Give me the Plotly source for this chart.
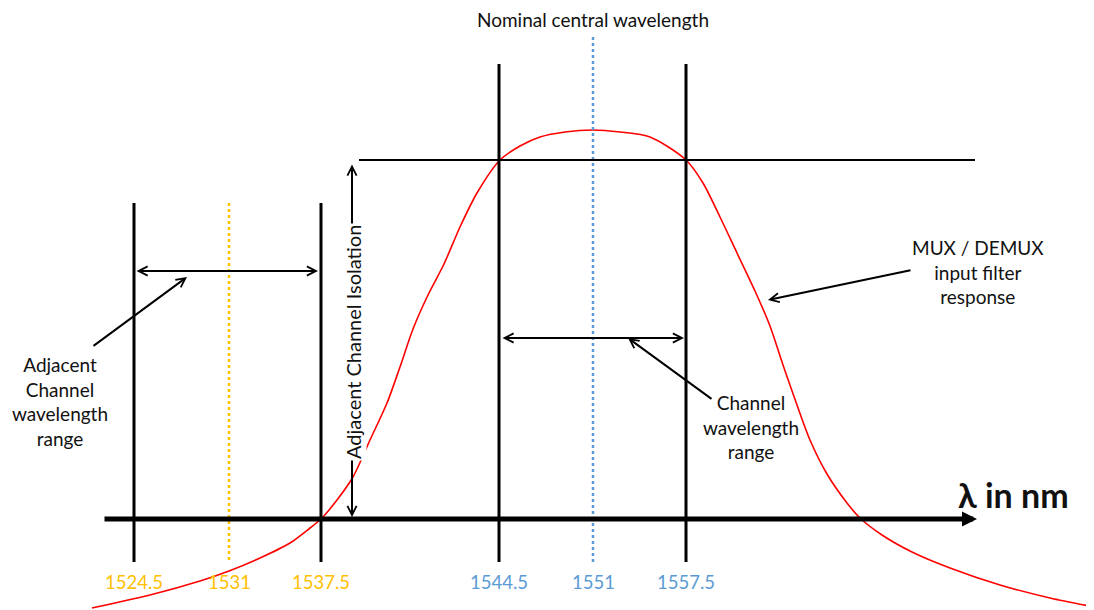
import plotly.graph_objects as go

# ---- data (diagram coordinates: x to the right, y downward) ----
wavelength_labels = ["1524.5", "1531", "1537.5", "1544.5", "1551", "1557.5"]
wavelength_pos = [134, 229, 321, 499, 593, 686]
label_colors = ["#FFC000", "#FFC000", "#FFC000", "#5B9BD5", "#5B9BD5", "#5B9BD5"]

curve_x = [92, 150, 200, 229, 260, 290, 310, 321, 337, 353, 370, 387, 400, 413, 428, 444, 460, 477,
           500, 520, 540, 565, 593, 620, 650, 686, 703, 720, 737, 755, 770, 783, 797, 810, 827,
           847, 860, 882, 912, 950, 1000, 1050, 1094]
curve_y = [608, 595, 581, 571, 558, 543, 528, 519, 500, 477, 440, 403, 367, 329, 295, 264, 227, 193,
           160, 146, 137, 132, 130, 132, 137, 160, 183, 217, 253, 291, 326, 365, 405, 440, 474,
           503, 518, 535, 552, 568, 585, 598, 607]

FONT = "Lato"
BLACK = "#111111"

fig = go.Figure()

# filter response curve
fig.add_trace(go.Scatter(x=curve_x, y=curve_y, mode="lines",
                         line=dict(color="#FF0000", width=1.6, shape="spline", smoothing=0.8),
                         hoverinfo="skip"))

# solid channel-edge lines
tops = {0: 203, 2: 203, 3: 64, 5: 64}
for i, top in tops.items():
    fig.add_trace(go.Scatter(x=[wavelength_pos[i]] * 2, y=[top, 562], mode="lines",
                             line=dict(color="black", width=3), hoverinfo="skip"))

# dotted centre lines
fig.add_trace(go.Scatter(x=[wavelength_pos[1]] * 2, y=[203, 562], mode="lines",
                         line=dict(color="#FFC000", width=2.5, dash="dot"), hoverinfo="skip"))
fig.add_trace(go.Scatter(x=[wavelength_pos[4]] * 2, y=[37, 562], mode="lines",
                         line=dict(color="#5B9BD5", width=2.5, dash="dot"), hoverinfo="skip"))

# horizontal reference line at passband level
fig.add_trace(go.Scatter(x=[359, 975], y=[160, 160], mode="lines",
                         line=dict(color="black", width=2), hoverinfo="skip"))

ann = []

def arrow(x, y, ax, ay, width=2, head=5, size=0.9, side="end", color="black"):
    ann.append(dict(x=x, y=y, ax=ax, ay=ay, xref="x", yref="y", axref="x", ayref="y",
                    text="", showarrow=True, arrowhead=head, startarrowhead=head,
                    arrowsize=size, startarrowsize=size, arrowwidth=width,
                    arrowcolor=color, arrowside=side, standoff=0, startstandoff=0))

# wavelength axis
arrow(977, 519, 103, 519, width=5, head=2, size=0.6)

# double arrows
arrow(318, 271, 135, 271, side="end+start")
arrow(684, 338, 501, 338, side="end+start")
arrow(352, 517, 352, 163, side="end+start")

# pointer arrows
arrow(187, 277, 92, 347)
arrow(628, 338, 713, 400)
arrow(768, 300, 912, 270)

# texts
ann.append(dict(x=593, y=19, xref="x", yref="y", text="Nominal central wavelength",
                showarrow=False, borderpad=0, font=dict(family=FONT, size=19, color=BLACK)))
ann.append(dict(x=60, y=401, xref="x", yref="y",
                text="Adjacent<br>Channel<br>wavelength<br>range",
                showarrow=False, font=dict(family=FONT, size=19, color=BLACK)))
ann.append(dict(x=751, y=427, xref="x", yref="y", text="Channel<br>wavelength<br>range",
                showarrow=False, font=dict(family=FONT, size=19, color=BLACK)))
ann.append(dict(x=978, y=272, xref="x", yref="y", text="MUX / DEMUX<br>input filter<br>response",
                showarrow=False, font=dict(family=FONT, size=19, color=BLACK)))
ann.append(dict(x=353, y=342, xref="x", yref="y", text="Adjacent Channel Isolation",
                textangle=-90, showarrow=False, bgcolor="white", borderpad=1,
                font=dict(family=FONT, size=20, color=BLACK)))
ann.append(dict(x=1013, y=494, xref="x", yref="y", text="<b>λ in nm</b>",
                showarrow=False, font=dict(family=FONT, size=34, color=BLACK)))

for lab, pos, col in zip(wavelength_labels, wavelength_pos, label_colors):
    ann.append(dict(x=pos, y=582, xref="x", yref="y", text=lab, showarrow=False,
                    font=dict(family=FONT, size=18.5, color=col)))

# the page body adds an 8px offset; compensate so diagram units match the window pixels
fig.update_layout(
    width=1086, height=602,
    margin=dict(l=0, r=0, t=0, b=0),
    paper_bgcolor="white", plot_bgcolor="white",
    showlegend=False,
    xaxis=dict(range=[8, 1094], visible=False, fixedrange=True),
    yaxis=dict(range=[610, 8], visible=False, fixedrange=True),
    annotations=ann,
)

fig.write_html("out.html")
